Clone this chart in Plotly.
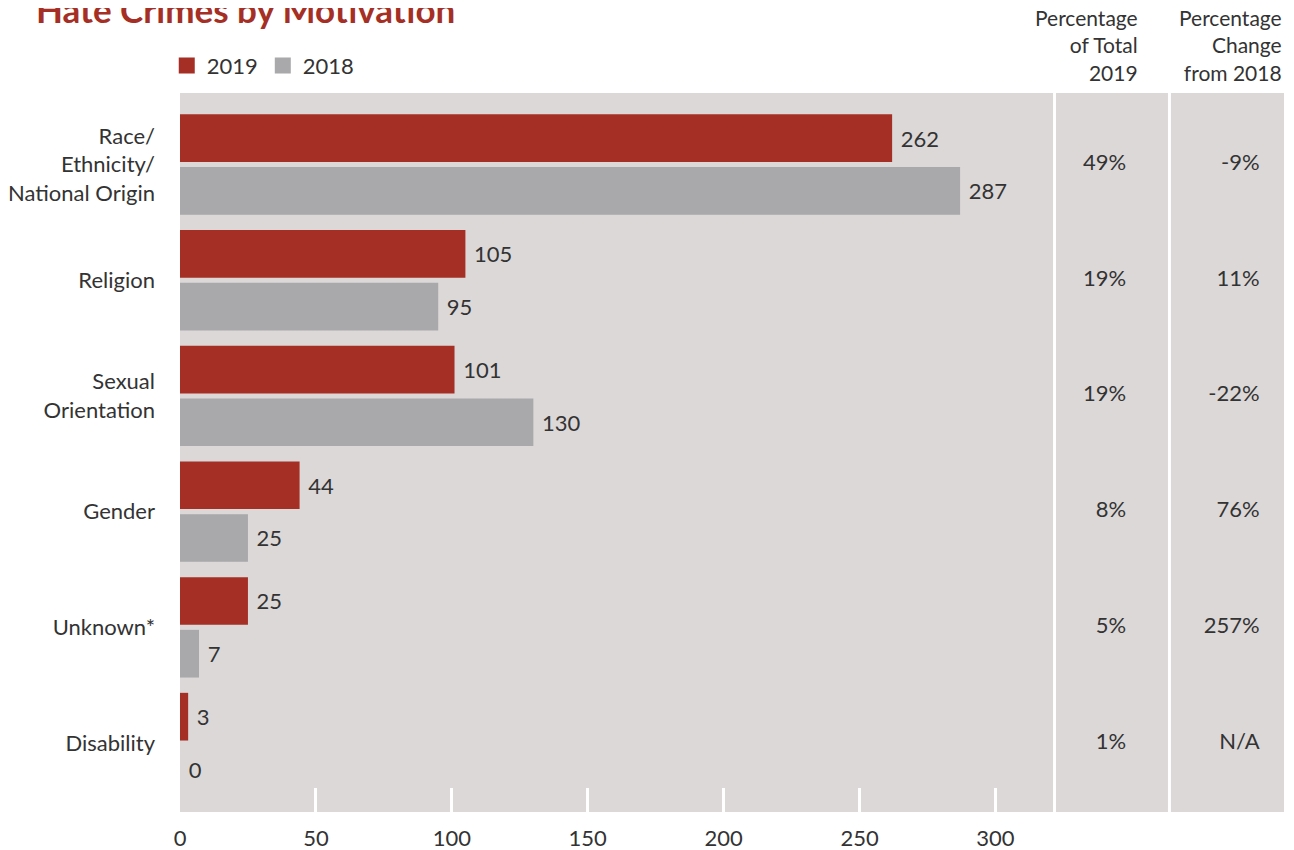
import plotly.graph_objects as go

categories = ["Race/<br>Ethnicity/<br>National Origin", "Religion", "Sexual<br>Orientation",
              "Gender", "Unknown*", "Disability"]
values_2019 = [262, 105, 101, 44, 25, 3]
values_2018 = [287, 95, 130, 25, 7, 0]
pct_total_2019 = ["49%", "19%", "19%", "8%", "5%", "1%"]
pct_change = ["-9%", "11%", "-22%", "76%", "257%", "N/A"]
x_ticks = [0, 50, 100, 150, 200, 250, 300]

RED = "#A52F24"
GRAY = "#A9A8AA"
BG = "#DCD8D8"
TXT = "#333333"
FONT = "Lato"

fig = go.Figure()
fig.add_trace(go.Bar(y=categories, x=values_2019, orientation="h", name="2019",
                     marker=dict(color=RED, line=dict(width=0)),
                     text=["\u00a0" + str(v) for v in values_2019], textposition="outside",
                     textfont=dict(size=22, color=TXT, family=FONT), cliponaxis=False,
                     showlegend=False, hoverinfo="x+y"))
fig.add_trace(go.Bar(y=categories, x=values_2018, orientation="h", name="2018",
                     marker=dict(color=GRAY, line=dict(width=0)),
                     text=["\u00a0" + str(v) for v in values_2018], textposition="outside",
                     textfont=dict(size=22, color=TXT, family=FONT), cliponaxis=False,
                     showlegend=False, hoverinfo="x+y"))
# legend entries
fig.add_trace(go.Scatter(x=[None], y=[None], mode="markers", name="2019",
                         marker=dict(symbol="square", size=16, color=RED)))
fig.add_trace(go.Scatter(x=[None], y=[None], mode="markers", name="2018",
                         marker=dict(symbol="square", size=16, color=GRAY)))

# side columns
fig.add_trace(go.Scatter(x=[0.627] * len(categories), y=categories, mode="text",
                         text=pct_total_2019, textposition="middle left",
                         textfont=dict(size=22, color=TXT, family=FONT),
                         xaxis="x2", yaxis="y", showlegend=False, hoverinfo="skip"))
fig.add_trace(go.Scatter(x=[0.784] * len(categories), y=categories, mode="text",
                         text=pct_change, textposition="middle left",
                         textfont=dict(size=22, color=TXT, family=FONT),
                         xaxis="x3", yaxis="y", showlegend=False, hoverinfo="skip"))

fig.update_layout(
    width=1286, height=842,
    margin=dict(l=172, r=10, t=85, b=38, autoexpand=False),
    paper_bgcolor="white", plot_bgcolor=BG,
    font=dict(family=FONT, size=22, color=TXT),
    barmode="group", bargap=0.089, bargroupgap=0.095,
    xaxis=dict(domain=[0, 0.7908], range=[0, 321.2], showgrid=False, zeroline=False,
               automargin=False,
               tickvals=x_ticks, ticks="", ticklabelstandoff=11,
               tickfont=dict(size=22, color=TXT),
               minor=dict(tickvals=x_ticks[1:], ticks="inside", ticklen=24,
                          tickwidth=2.5, tickcolor="white", showgrid=False)),
    xaxis2=dict(domain=[0.7935, 0.8949], range=[0, 1], visible=False, anchor="y"),
    xaxis3=dict(domain=[0.8976, 1.0], range=[0, 1], visible=False, anchor="y"),
    yaxis=dict(type="category", categoryorder="array", categoryarray=categories,
               range=[5.596, -0.618], showgrid=False, zeroline=False, ticks="",
               automargin=False,
               ticklabelstandoff=24, tickfont=dict(size=22, color=TXT)),
    legend=dict(orientation="h", x=-0.012, xanchor="left", y=1.038, yanchor="middle",
                font=dict(size=22, color=TXT), bgcolor="rgba(0,0,0,0)",
                itemsizing="trace", traceorder="normal"),
)

fig.add_annotation(text="<b>Hate Crimes by Motivation</b>", xref="paper", yref="paper",
                   x=-0.1325, y=1.1165, xanchor="left", yanchor="middle", showarrow=False,
                   font=dict(size=35, color=RED, family=FONT))
fig.add_annotation(text="Percentage<br>of Total<br>2019", xref="paper", yref="paper",
                   x=0.8695, y=1.0664, xanchor="right", yanchor="middle", align="right",
                   showarrow=False, font=dict(size=21, color=TXT, family=FONT))
fig.add_annotation(text="Percentage<br>Change<br>from 2018", xref="paper", yref="paper",
                   x=1.0, y=1.0664, xanchor="right", yanchor="middle", align="right",
                   showarrow=False, font=dict(size=21, color=TXT, family=FONT))

fig.write_html("out.html")
